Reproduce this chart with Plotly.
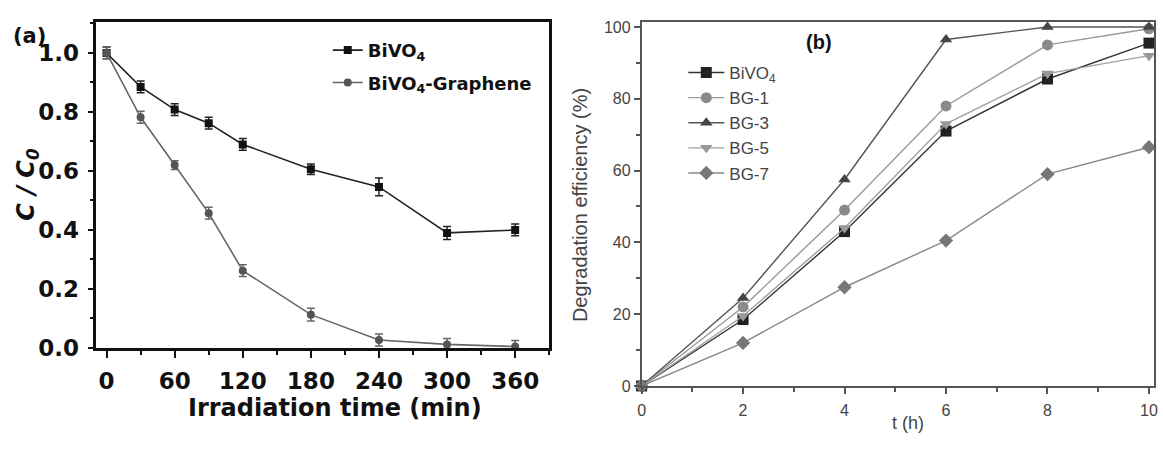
import plotly.graph_objects as go

W, H = 1163, 449

# ---------- Panel (a) data ----------
t_min = [0, 30, 60, 90, 120, 180, 240, 300, 360]
bivo4_c = [1.0, 0.885, 0.808, 0.762, 0.690, 0.606, 0.546, 0.390, 0.400]
bivo4_err = [0.02, 0.02, 0.02, 0.02, 0.02, 0.018, 0.03, 0.022, 0.02]
graph_c = [1.0, 0.782, 0.620, 0.457, 0.262, 0.113, 0.027, 0.012, 0.005]
graph_err = [0.02, 0.02, 0.015, 0.02, 0.02, 0.022, 0.02, 0.02, 0.02]

# ---------- Panel (b) data ----------
t_h = [0, 2, 4, 6, 8, 10]
deg_bivo4 = [0, 18.5, 43.0, 71.0, 85.5, 95.5]
deg_bg1 = [0, 22.0, 49.0, 78.0, 95.0, 99.5]
deg_bg3 = [0, 24.5, 57.5, 96.5, 100.0, 100.0]
deg_bg5 = [0, 19.5, 44.0, 73.0, 87.0, 92.0]
deg_bg7 = [0, 12.0, 27.5, 40.5, 59.0, 66.5]

def px(x):
    return x / W

def py(y):
    return 1 - y / H

fig = go.Figure()

# Panel (a) traces
fig.add_trace(go.Scatter(
    x=t_min, y=bivo4_c, name="BiVO<sub>4</sub>", mode="lines+markers",
    line=dict(color="#222222", width=1.6),
    marker=dict(symbol="square", size=8, color="#111111"),
    error_y=dict(type="data", array=bivo4_err, color="#222222", thickness=1.5, width=4),
    xaxis="x", yaxis="y", legend="legend", legendgroup="a1"))
fig.add_trace(go.Scatter(
    x=t_min, y=graph_c, name="BiVO<sub>4</sub>-Graphene", mode="lines+markers",
    line=dict(color="#666666", width=1.6),
    marker=dict(symbol="circle", size=8, color="#555555"),
    error_y=dict(type="data", array=graph_err, color="#666666", thickness=1.5, width=4),
    xaxis="x", yaxis="y", legend="legend", legendgroup="a2"))

# Panel (b) traces
b_series = [
    ("BiVO<sub>4</sub>", deg_bivo4, "square", "#222222", "#333333"),
    ("BG-1", deg_bg1, "circle", "#8a8a8a", "#999999"),
    ("BG-3", deg_bg3, "triangle-up", "#444444", "#555555"),
    ("BG-5", deg_bg5, "triangle-down", "#999999", "#a0a0a0"),
    ("BG-7", deg_bg7, "diamond", "#777777", "#888888"),
]
for name, vals, sym, mcol, lcol in b_series:
    fig.add_trace(go.Scatter(
        x=t_h, y=vals, name=name, mode="lines+markers",
        line=dict(color=lcol, width=1.4),
        marker=dict(symbol=sym, size=11, color=mcol),
        xaxis="x2", yaxis="y2", legend="legend2", cliponaxis=False))

FAM_A = "DejaVu Sans, Liberation Sans, sans-serif"
FAM_B = "Liberation Sans, Arial, sans-serif"
font_a = dict(family=FAM_A, size=23, color="#111111", weight="bold")
font_b = dict(family=FAM_B, size=16, color="#444444")

def label(text, x, y, size, fam, color="#111111", bold=False, angle=0):
    f = dict(family=fam, size=size, color=color)
    if bold:
        f["weight"] = "bold"
    return dict(text=text, x=px(x), y=py(y), xref="paper", yref="paper",
                xanchor="center", yanchor="middle", showarrow=False,
                textangle=angle, font=f)

fig.update_layout(
    width=W, height=H,
    margin=dict(l=0, r=0, t=0, b=0),
    paper_bgcolor="white", plot_bgcolor="white",
    showlegend=True,
    xaxis=dict(
        domain=[px(93), px(549)], range=[-9, 390],
        tickvals=[0, 60, 120, 180, 240, 300, 360],
        ticks="outside", ticklen=7, tickwidth=2, tickcolor="#111111",
        minor=dict(ticks="outside", ticklen=4, tickwidth=2, tickcolor="#111111", dtick=30, tick0=0),
        showline=True, linecolor="#111111", linewidth=2.5, mirror=True,
        showgrid=False, zeroline=False, tickfont=font_a, anchor="y",
        ticklabelstandoff=4,
    ),
    yaxis=dict(
        domain=[py(357.5), py(19)], range=[0, 1.104],
        tickvals=[0, 0.2, 0.4, 0.6, 0.8, 1.0], ticktext=["0.0", "0.2", "0.4", "0.6", "0.8", "1.0"],
        ticks="outside", ticklen=6, tickwidth=2, tickcolor="#111111",
        minor=dict(ticks="outside", ticklen=4, tickwidth=2, tickcolor="#111111", dtick=0.1, tick0=0),
        showline=True, linecolor="#111111", linewidth=2.5, mirror=True,
        showgrid=False, zeroline=False, tickfont=font_a, anchor="x",
        ticklabelstandoff=4,
    ),
    xaxis2=dict(
        domain=[px(642), px(1158)], range=[0, 10.1],
        tickvals=[0, 2, 4, 6, 8, 10],
        ticks="outside", ticklen=6, tickwidth=1.5, tickcolor="#555555",
        minor=dict(ticks="outside", ticklen=4, tickwidth=1.5, tickcolor="#555555", dtick=1, tick0=0),
        showline=True, linecolor="#555555", linewidth=1.5, mirror=True,
        showgrid=False, zeroline=False, tickfont=font_b, anchor="y2",
        ticklabelstandoff=3,
    ),
    yaxis2=dict(
        domain=[py(397), py(19)], range=[0, 101.3],
        tickvals=[0, 20, 40, 60, 80, 100],
        ticks="outside", ticklen=6, tickwidth=1.5, tickcolor="#555555",
        minor=dict(ticks="outside", ticklen=4, tickwidth=1.5, tickcolor="#555555", dtick=10, tick0=0),
        showline=True, linecolor="#555555", linewidth=1.5, mirror=True,
        showgrid=False, zeroline=False, tickfont=font_b, anchor="x2",
    ),
    legend=dict(
        x=px(326), y=py(29), xanchor="left", yanchor="top",
        bgcolor="rgba(0,0,0,0)",
        font=dict(family=FAM_A, size=18, color="#111111", weight="bold"),
        itemwidth=30, tracegroupgap=6,
    ),
    legend2=dict(
        x=px(684), y=py(53), xanchor="left", yanchor="top",
        bgcolor="rgba(0,0,0,0)",
        font=dict(family=FAM_B, size=17, color="#444444"),
        itemwidth=36, tracegroupgap=0,
    ),
    annotations=[
        label("(a)", 26, 33, 21, FAM_A, bold=True),
        label("Irradiation time (min)", 333, 420, 24, FAM_A, bold=True),
        label("<i>C / C</i><sub><i>0</i></sub>", 24, 187, 24, FAM_A, bold=True, angle=-90),
        label("(b)", 821, 40, 20, FAM_B, bold=True),
        label("Degradation efficiency (%)", 580, 209, 20, FAM_B, color="#444444", angle=-90),
        label("t (h)", 910, 436, 18, FAM_B, color="#444444"),
    ],
)

fig.write_html("out.html")
